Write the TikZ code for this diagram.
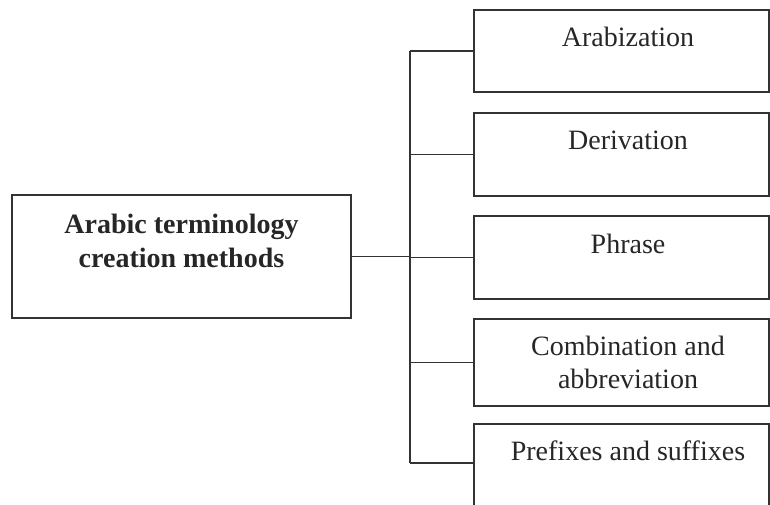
\documentclass[tikz,border=0pt]{standalone}
\usepackage{fontspec}
\setmainfont{Liberation Serif}
\begin{document}
\begin{tikzpicture}[x=1pt,y=-1pt,
  boxstyle/.style={draw=black!80, line width=1.3pt, inner sep=0pt, rectangle},
  labelstyle/.style={font=\fontsize{28}{34}\selectfont, text=black!85, inner sep=0pt, align=center},
  linkstyle/.style={draw=black!80, line width=1.1pt}]
\clip (0,0) rectangle (770,504);
% boxes
\node[boxstyle, minimum width=339pt, minimum height=123pt] (main) at (181.5,256.5) {};
\node[boxstyle, minimum width=295pt, minimum height=82pt] (a) at (621.5,51) {};
\node[boxstyle, minimum width=295pt, minimum height=83pt] (d) at (621.5,154.5) {};
\node[boxstyle, minimum width=295pt, minimum height=83pt] (p) at (621.5,257.5) {};
\node[boxstyle, minimum width=295pt, minimum height=87pt] (c) at (621.5,362.5) {};
\node[boxstyle, minimum width=295pt, minimum height=96pt] (s) at (621.5,472) {};
% labels
\node[labelstyle, anchor=base, font=\fontsize{28}{34}\selectfont\bfseries] (mainlabel) at (181.5,233) {Arabic terminology};
\node[labelstyle, anchor=base, font=\fontsize{28}{34}\selectfont\bfseries] (mainlabel2) at (181.5,267) {creation methods};
\node[labelstyle, anchor=base] (al) at (628,46) {Arabization};
\node[labelstyle, anchor=base] (dl) at (628,149) {Derivation};
\node[labelstyle, anchor=base] (pl) at (628,253) {Phrase};
\node[labelstyle, anchor=base] (cl) at (628,355) {Combination and};
\node[labelstyle, anchor=base] (cl2) at (628,388) {abbreviation};
\node[labelstyle, anchor=base] (sl) at (628,460) {Prefixes and suffixes};
% connectors
\coordinate (spine) at (410,0);
\coordinate (sb) at (0,463);
\draw[linkstyle] (main.east) -- (spine |- main.east);
\draw[linkstyle] (spine |- a.west) -- (spine |- sb);
\draw[linkstyle] (spine |- a.west) -- (a.west);
\draw[linkstyle] (spine |- d.west) -- (d.west);
\draw[linkstyle] (spine |- p.west) -- (p.west);
\draw[linkstyle] (spine |- c.west) -- (c.west);
\draw[linkstyle] (spine |- sb) -- (s.west |- sb);
\end{tikzpicture}
\end{document}
